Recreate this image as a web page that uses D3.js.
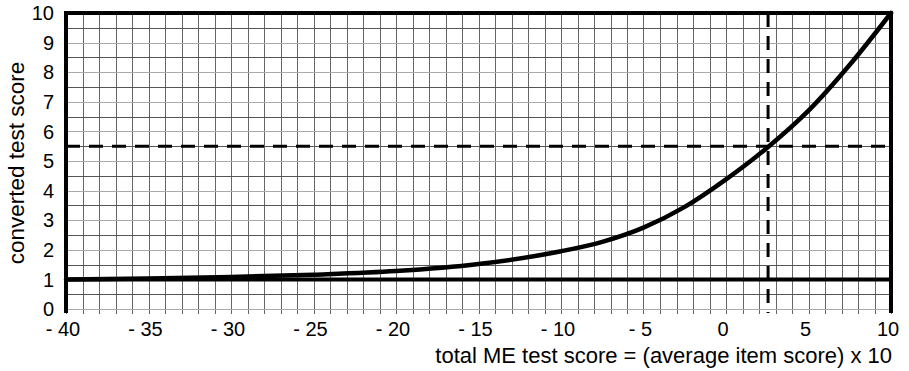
<!DOCTYPE html>
<html>
<head>
<meta charset="utf-8">
<script src="https://cdn.jsdelivr.net/npm/d3@7"></script>
<style>
  body { margin: 0; background: #fff; }
  text { font-family: "Liberation Sans", Arial, sans-serif; fill: #000; }
</style>
</head>
<body>
<svg width="909" height="371"></svg>
<script>
// curve
var scoreX = [-40, -35, -30, -25, -20, -15, -10, -7.5, -5, -2.5, 0, 2.5, 5, 7.5, 10];
var convertedY = [1.0, 1.03, 1.08, 1.16, 1.28, 1.52, 1.95, 2.27, 2.75, 3.45, 4.38, 5.45, 6.7, 8.25, 10];
var xTicks = [-40, -35, -30, -25, -20, -15, -10, -5, 0, 5, 10];
var yTicks = [0, 1, 2, 3, 4, 5, 6, 7, 8, 9, 10];
var markX = 2.55, markY = 5.5, baseY = 1;

var svg = d3.select("svg"),
    width = +svg.attr("width"),
    height = +svg.attr("height");
var margin = {top: 13, right: 18, bottom: 62, left: 66};

var x = d3.scaleLinear().domain([-40, 10]).range([margin.left, width - margin.right]);
var y = d3.scaleLinear().domain([0, 10]).range([height - margin.bottom, margin.top]);

var g = svg.append("g");

// grid: every 1 in x, every 0.5 in y
g.append("g").selectAll("line")
  .data(d3.range(-40, 10.01, 1))
  .enter().append("line")
    .attr("x1", function(d) { return Math.round(x(d)) + 0.5; })
    .attr("x2", function(d) { return Math.round(x(d)) + 0.5; })
    .attr("y1", y(10)).attr("y2", y(0) + 5)
    .attr("stroke", "#666").attr("stroke-width", 1);

g.append("g").selectAll("line")
  .data(d3.range(0, 10.01, 0.5))
  .enter().append("line")
    .attr("x1", x(-40)).attr("x2", x(10))
    .attr("y1", function(d) { return Math.round(y(d)) + 0.5; })
    .attr("y2", function(d) { return Math.round(y(d)) + 0.5; })
    .attr("stroke", function(d) { return d % 1 === 0 ? "#aaa" : "#555"; })
    .attr("stroke-width", 1);

// borders
g.append("line").attr("x1", x(-40)).attr("x2", x(-40)).attr("y1", y(10) - 2).attr("y2", y(0) + 4)
  .attr("stroke", "#000").attr("stroke-width", 4);
g.append("line").attr("x1", x(10)).attr("x2", x(10)).attr("y1", y(10) - 2).attr("y2", y(0) + 4)
  .attr("stroke", "#000").attr("stroke-width", 4);
g.append("line").attr("x1", x(-40) - 2).attr("x2", x(10) + 2).attr("y1", y(10)).attr("y2", y(10))
  .attr("stroke", "#000").attr("stroke-width", 4);

// baseline at 1
g.append("line").attr("x1", x(-40)).attr("x2", x(10)).attr("y1", y(baseY)).attr("y2", y(baseY))
  .attr("stroke", "#000").attr("stroke-width", 4);

// dashed markers
g.append("line").attr("x1", x(-40)).attr("x2", x(10)).attr("y1", y(markY)).attr("y2", y(markY))
  .attr("stroke", "#000").attr("stroke-width", 3).attr("stroke-dasharray", "14,9");
g.append("line").attr("x1", x(markX)).attr("x2", x(markX)).attr("y1", y(10)).attr("y2", y(0) + 4)
  .attr("stroke", "#000").attr("stroke-width", 3).attr("stroke-dasharray", "14,9");

// curve
var pts = scoreX.map(function(d, i) { return [d, convertedY[i]]; });
var line = d3.line()
  .x(function(d) { return x(d[0]); })
  .y(function(d) { return y(d[1]); })
  .curve(d3.curveMonotoneX);
g.append("path").datum(pts)
  .attr("d", line)
  .attr("fill", "none").attr("stroke", "#000").attr("stroke-width", 4.5)
  .attr("stroke-linecap", "round");

// tick labels
g.append("g").selectAll("text")
  .data(yTicks)
  .enter().append("text")
    .attr("x", 54).attr("y", function(d) { return y(d); })
    .attr("dy", "0.36em").attr("text-anchor", "end")
    .style("font-size", "20px")
    .text(function(d) { return d; });

g.append("g").selectAll("text")
  .data(xTicks)
  .enter().append("text")
    .attr("x", function(d) { return x(d) - 3; }).attr("y", y(0) + 20)
    .attr("dy", "0.36em").attr("text-anchor", "middle")
    .style("font-size", "20px")
    .text(function(d) { return d < 0 ? "- " + Math.abs(d) : d; });

// titles
svg.append("text")
  .attr("x", x(10) + 1).attr("y", 355).attr("dy", "0.36em")
  .attr("text-anchor", "end").style("font-size", "22px")
  .text("total ME test score = (average item score) x 10");

svg.append("text")
  .attr("transform", "translate(16," + ((y(0) + y(10)) / 2 + 2) + ") rotate(-90)")
  .attr("dy", "0.36em").attr("text-anchor", "middle").style("font-size", "22.5px")
  .text("converted test score");
</script>
</body>
</html>
